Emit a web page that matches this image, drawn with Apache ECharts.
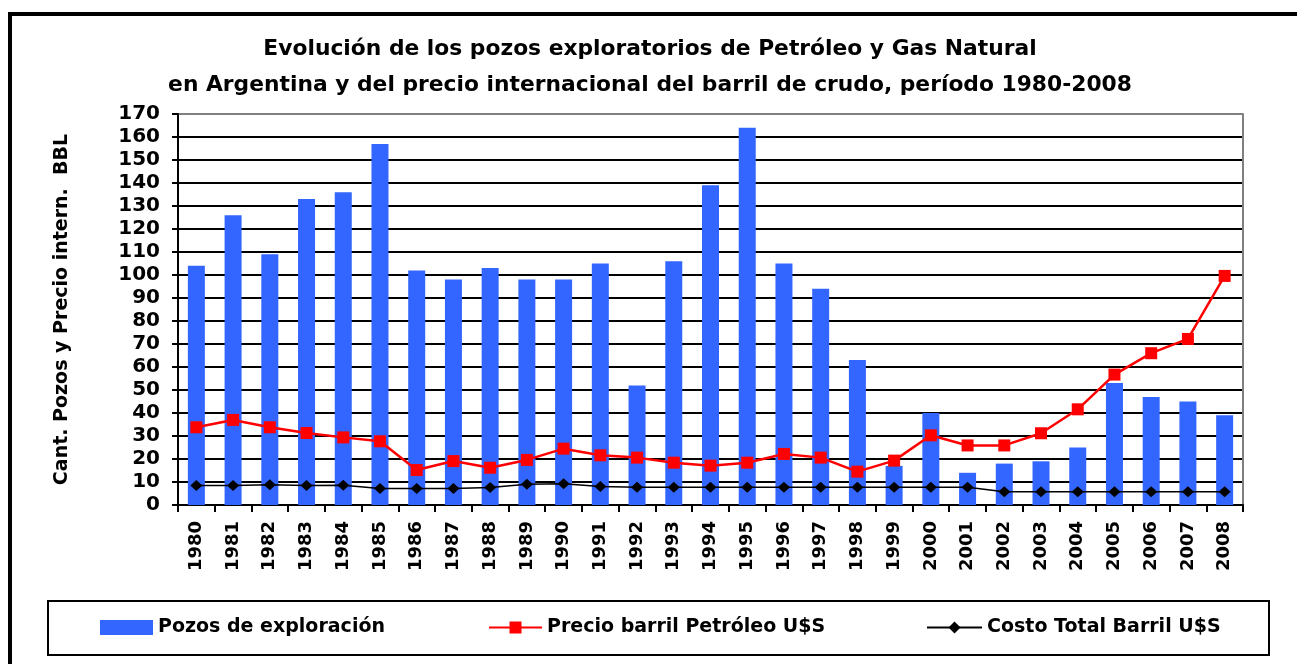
<!DOCTYPE html>
<html>
<head>
<meta charset="utf-8">
<title>Pozos exploratorios y precio del barril</title>
<script src="https://cdn.jsdelivr.net/npm/echarts@6/dist/echarts.min.js"></script>
<style>
  html, body { margin: 0; padding: 0; background: #fff; }
  #chart { width: 1297px; height: 664px; }
</style>
</head>
<body>
<div id="chart"></div>
<script>
// años (eje X)
const years = ['1980', '1981', '1982', '1983', '1984', '1985', '1986', '1987', '1988', '1989',
  '1990', '1991', '1992', '1993', '1994', '1995', '1996', '1997', '1998', '1999',
  '2000', '2001', '2002', '2003', '2004', '2005', '2006', '2007', '2008']
// pozos de exploración
const pozos = [104, 126, 109, 133, 136, 157, 102, 98, 103, 98,
  98, 105, 52, 106, 139, 164, 105, 94, 63, 17,
  40, 14, 18, 19, 25, 53, 47, 45, 39]
// precio barril petróleo U$S
const precio = [33.8, 37, 33.8, 31.3, 29.4, 27.7, 15.2, 19.1, 16.2, 19.6,
  24.5, 21.6, 20.6, 18.4, 17.1, 18.4, 22.2, 20.6, 14.5, 19.3,
  30.3, 25.9, 25.9, 31.2, 41.6, 56.7, 66, 72.2, 99.6]
// costo total barril U$S
const costo = [8.5, 8.5, 8.8, 8.5, 8.6, 7.2, 7.2, 7.2, 7.6, 9.0,
  9.2, 8.0, 7.7, 7.7, 7.7, 7.7, 7.7, 7.7, 7.7, 7.7,
  7.7, 7.7, 5.8, 5.8, 5.8, 5.8, 5.8, 5.8, 5.8]

const seriesNames = ['Pozos de exploración', 'Precio barril Petróleo U$S', 'Costo Total Barril U$S']
const font = 'DejaVu Sans'

const chart = echarts.init(document.getElementById('chart'))

// colores de las líneas de grilla: la de 170 es gris (borde del área)
const gridColors = []
for (let i = 0; i < 17; i++) gridColors.push('#000')
gridColors.push('#808080')

const legendText = { fontFamily: font, fontWeight: 'bold', fontSize: 19, color: '#000' }

const option = {
  animation: false,
  backgroundColor: '#fff',
  title: {
    text: 'Evolución de los pozos exploratorios de Petróleo y Gas Natural\nen Argentina y del precio internacional del barril de crudo, período 1980-2008',
    left: 645,
    textAlign: 'center',
    top: 26,
    textStyle: {
      fontFamily: font,
      fontWeight: 'bold',
      fontSize: 21.8,
      lineHeight: 36,
      color: '#000'
    }
  },
  // tres leyendas separadas para ubicarlas como en el original
  legend: [
    {
      data: [seriesNames[0]],
      left: 100, top: 618, padding: 0,
      itemWidth: 53, itemHeight: 15, itemGap: 5,
      icon: 'rect',
      textStyle: legendText
    },
    {
      data: [seriesNames[1]],
      left: 488, top: 618, padding: 0,
      itemWidth: 53, itemHeight: 15,
      textStyle: legendText
    },
    {
      data: [seriesNames[2]],
      left: 926, top: 618, padding: 0,
      itemWidth: 55, itemHeight: 15,
      textStyle: legendText
    }
  ],
  grid: {
    left: 178,
    right: 54,
    top: 114,
    bottom: 159,
    containLabel: false
  },
  xAxis: {
    type: 'category',
    data: years,
    axisLine: { lineStyle: { color: '#000', width: 2 } },
    axisTick: { show: true, length: 7, lineStyle: { color: '#000', width: 2 } },
    axisLabel: {
      rotate: 90,
      margin: 16,
      fontFamily: font,
      fontWeight: 'bold',
      fontSize: 18,
      color: '#000'
    }
  },
  yAxis: [
    {
      type: 'value',
      min: 0,
      max: 170,
      interval: 10,
      name: 'Cant. Pozos y Precio intern.  BBL',
      nameLocation: 'middle',
      nameRotate: 90,
      nameGap: 106,
      nameTextStyle: { fontFamily: font, fontWeight: 'bold', fontSize: 19, color: '#000' },
      axisLine: { show: true, lineStyle: { color: '#000', width: 2 } },
      axisTick: { show: true, length: 6, lineStyle: { color: '#000', width: 2 } },
      axisLabel: {
        margin: 18,
        fontFamily: font,
        fontWeight: 'bold',
        fontSize: 20,
        color: '#000'
      },
      splitLine: { show: true, lineStyle: { color: gridColors, width: 2 } }
    },
    {
      // solo el borde derecho gris del área
      type: 'value',
      position: 'right',
      min: 0,
      max: 170,
      interval: 10,
      axisLine: { show: true, lineStyle: { color: '#808080', width: 2 } },
      axisTick: { show: false },
      axisLabel: { show: false },
      splitLine: { show: false }
    }
  ],
  series: [
    {
      name: seriesNames[0],
      type: 'bar',
      data: pozos,
      barWidth: 17,
      itemStyle: { color: '#3366FF' },
      z: 2
    },
    {
      name: seriesNames[1],
      type: 'line',
      data: precio,
      symbol: 'rect',
      symbolSize: 12,
      lineStyle: { color: '#FF0000', width: 2.5 },
      itemStyle: { color: '#FF0000' },
      z: 3
    },
    {
      name: seriesNames[2],
      type: 'line',
      data: costo,
      symbol: 'diamond',
      symbolSize: [12, 11],
      lineStyle: { color: '#000', width: 1.5 },
      itemStyle: { color: '#000' },
      z: 4
    }
  ],
  graphic: [
    // marco exterior (borde superior e izquierdo)
    {
      type: 'rect',
      shape: { x: 10, y: 14, width: 1400, height: 800 },
      style: { fill: null, stroke: '#000', lineWidth: 4 },
      silent: true
    },
    // recuadro de la leyenda
    {
      type: 'rect',
      shape: { x: 48, y: 601, width: 1221, height: 54 },
      style: { fill: null, stroke: '#000', lineWidth: 2 },
      silent: true
    }
  ]
}

chart.setOption(option)
</script>
</body>
</html>
